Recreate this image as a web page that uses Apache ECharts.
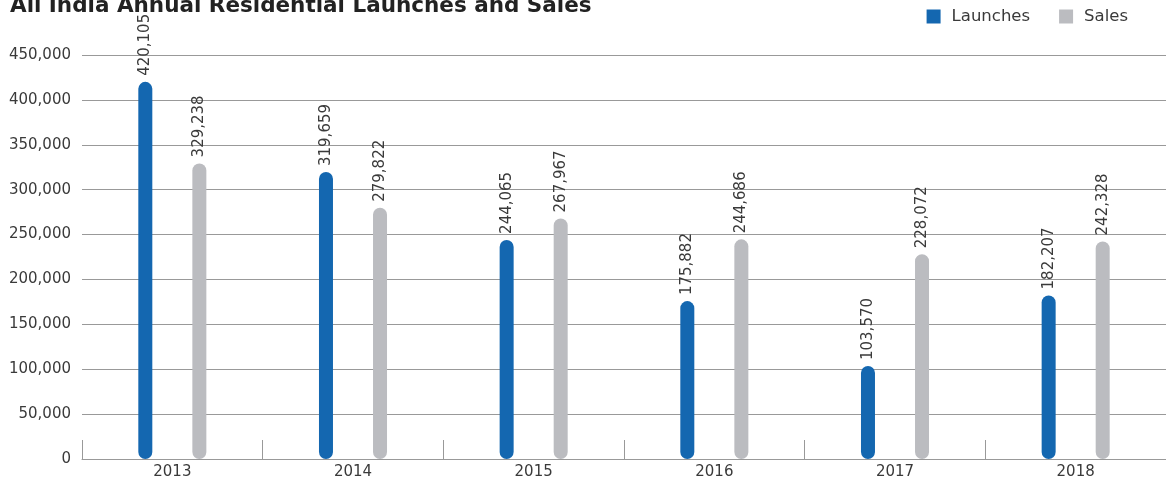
<!DOCTYPE html>
<html>
<head>
<meta charset="utf-8">
<script src="https://cdn.jsdelivr.net/npm/echarts@6/dist/echarts.min.js"></script>
<style>
html,body{margin:0;padding:0;background:#fff;}
#chart{width:1166px;height:484px;}
</style>
</head>
<body>
<div id="chart"></div>
<script>
const categories = ['2013','2014','2015','2016','2017','2018'];
const launches = [420105, 319659, 244065, 175882, 103570, 182207];
const sales = [329238, 279822, 267967, 244686, 228072, 242328];
const yTicks = {min: 0, max: 450000, interval: 50000};

const fontFam = '"DejaVu Sans", sans-serif';
const chart = echarts.init(document.getElementById('chart'));
const labelCfg = {
  show: true,
  position: 'top',
  rotate: 90,
  align: 'left',
  verticalAlign: 'middle',
  distance: 6,
  color: '#3a3a3a',
  fontSize: 15,
  fontFamily: fontFam,
  formatter: p => p.value.toLocaleString('en-US')
};
chart.setOption({
  animation: false,
  title: {
    text: 'All India Annual Residential Launches and Sales',
    left: 5, top: -10,
    textStyle: {fontSize: 21.5, fontWeight: 'bold', color: '#222', fontFamily: fontFam}
  },
  legend: {
    right: 33, top: 3,
    itemWidth: 14, itemHeight: 14, itemGap: 29,
    icon: 'rect',
    textStyle: {fontSize: 16.5, color: '#3a3a3a', fontFamily: fontFam, padding: [0, 0, 0, 6]},
    data: ['Launches', 'Sales']
  },
  grid: {left: 82, right: -8, top: 55, bottom: 25, containLabel: false},
  xAxis: {
    type: 'category',
    data: categories,
    axisLine: {lineStyle: {color: '#999', width: 1}},
    axisTick: {show: true, inside: true, length: 19, lineStyle: {color: '#999'}},
    axisLabel: {fontSize: 15, color: '#3a3a3a', fontFamily: fontFam, margin: 6}
  },
  yAxis: {
    type: 'value',
    min: yTicks.min, max: yTicks.max, interval: yTicks.interval,
    axisLine: {show: false},
    axisTick: {show: false},
    splitLine: {lineStyle: {color: '#999', width: 1}},
    axisLabel: {fontSize: 15, color: '#3a3a3a', fontFamily: fontFam, margin: 11,
      formatter: v => v.toLocaleString('en-US')}
  },
  series: [
    {name: 'Launches', type: 'bar', data: launches, barWidth: 14, barGap: '286%',
     itemStyle: {color: '#1467b0', borderRadius: 7}, label: labelCfg},
    {name: 'Sales', type: 'bar', data: sales, barWidth: 14,
     itemStyle: {color: '#bbbcc0', borderRadius: 7}, label: labelCfg}
  ]
});
</script>
</body>
</html>
